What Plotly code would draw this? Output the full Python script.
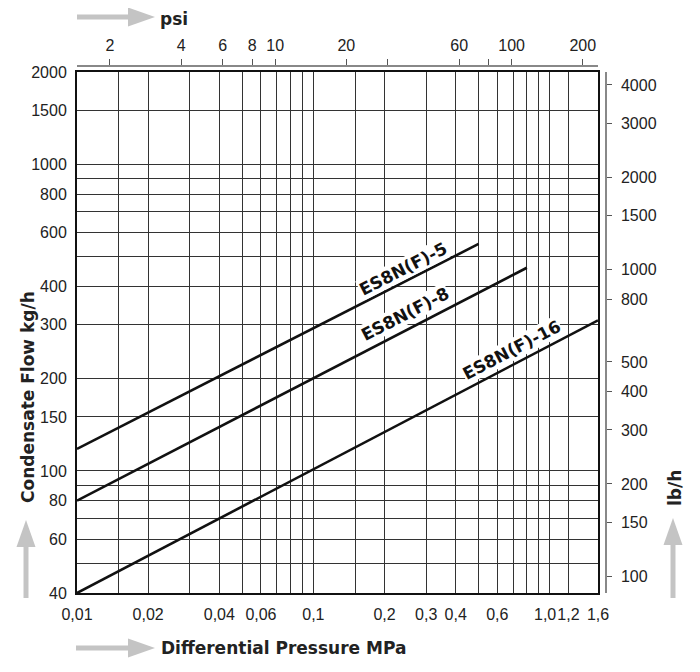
import math
import plotly.graph_objects as go

# ---------------- data ----------------
pressure_5 = [0.01, 0.5]      # MPa
flow_5 = [118, 550]           # kg/h
pressure_8 = [0.01, 0.8]
flow_8 = [80, 460]
pressure_16 = [0.01, 1.6]
flow_16 = [40, 310]
series_names = ["ES8N(F)-5", "ES8N(F)-8", "ES8N(F)-16"]
label_pressure = [0.239, 0.244, 0.69]   # where each label sits along its line
label_offset_px = [14, 17, 15]

x_tick_vals = [0.01, 0.015, 0.02, 0.03, 0.04, 0.05, 0.06, 0.07, 0.08, 0.09, 0.1,
               0.15, 0.2, 0.3, 0.4, 0.5, 0.6, 0.7, 0.8, 0.9, 1.0, 1.2, 1.6]
x_tick_text = ["0,01", "", "0,02", "", "0,04", "", "0,06", "", "", "", "0,1",
               "", "0,2", "0,3", "0,4", "", "0,6", "", "", "", "", "1,2", "1,6"]
crowded_tick_val, crowded_tick_text = 1.0, "1,0"   # drawn just left of its tick
y_tick_vals = [40, 50, 60, 70, 80, 90, 100, 150, 200, 300, 400, 500, 600, 700,
               800, 900, 1000, 1500, 2000]
y_tick_text = ["40", "", "60", "", "80", "", "100", "150", "200", "300", "400", "",
               "600", "", "800", "", "1000", "1500", "2000"]
psi_tick_vals = [2, 4, 6, 8, 10, 20, 30, 60, 80, 100, 200]
psi_tick_text = ["2", "4", "6", "8", "10", "20", "", "60", "", "100", "200"]
lb_tick_vals = [100, 150, 200, 300, 400, 500, 800, 1000, 1500, 2000, 3000, 4000]

X_MIN, X_MAX = 0.01, 1.6
Y_MIN, Y_MAX = 40, 2000
PSI_PER_MPA = 145.0377
LB_PER_KG = 2.20462

# ---------------- layout geometry ----------------
# the page body has an 8px margin, so the figure is drawn 8px in from the corner
OFF = 8
W, H = 700 - OFF, 672 - OFF
L, R, T, B = 77 - OFF, 94, 66 - OFF, 79
PW, PH = W - L - R, H - T - B
XDOM = (598 - 77) / PW
YDOM = (593 - 72) / PH


def px(xs):
    """screen x (window pixels) -> paper x"""
    return (xs - OFF - L) / PW


def py(ys):
    """screen y (window pixels) -> paper y"""
    return (H - B - (ys - OFF)) / PH


tick_font = dict(family="Liberation Sans Narrow, Arial Narrow, Liberation Sans, Arial, sans-serif",
                 size=16, color="#222")
bold_font = dict(family="Verdana, DejaVu Sans, sans-serif", size=17, color="#222")

fig = go.Figure()
for xs, ys, name in [(pressure_5, flow_5, series_names[0]),
                     (pressure_8, flow_8, series_names[1]),
                     (pressure_16, flow_16, series_names[2])]:
    fig.add_trace(go.Scatter(x=xs, y=ys, mode="lines", name=name,
                             line=dict(color="#111", width=2.6), hoverinfo="skip"))

# helper traces so the secondary axes are drawn
fig.add_trace(go.Scatter(x=[X_MIN * PSI_PER_MPA, X_MAX * PSI_PER_MPA], y=[Y_MIN, Y_MAX],
                         xaxis="x2", yaxis="y", mode="markers", marker=dict(opacity=0),
                         hoverinfo="skip", showlegend=False))
fig.add_trace(go.Scatter(x=[X_MIN, X_MAX], y=[Y_MIN * LB_PER_KG, Y_MAX * LB_PER_KG],
                         xaxis="x", yaxis="y2", mode="markers", marker=dict(opacity=0),
                         hoverinfo="skip", showlegend=False))

# line labels
px_per_dec_x = (XDOM * PW) / math.log10(X_MAX / X_MIN)
px_per_dec_y = (YDOM * PH) / math.log10(Y_MAX / Y_MIN)
annotations = []
for xs, ys, name, lx, off in zip([pressure_5, pressure_8, pressure_16],
                                 [flow_5, flow_8, flow_16],
                                 series_names, label_pressure, label_offset_px):
    slope = math.log10(ys[1] / ys[0]) / math.log10(xs[1] / xs[0])
    ly = ys[0] * (lx / xs[0]) ** slope
    ang = math.degrees(math.atan(slope * px_per_dec_y / px_per_dec_x))
    annotations.append(dict(x=math.log10(lx), y=math.log10(ly), xref="x", yref="y",
                            text="<b>%s</b>" % name, showarrow=False, textangle=-ang,
                            font=dict(family="Verdana, DejaVu Sans, sans-serif", size=17, color="#111"),
                            bgcolor="white", borderpad=0, yshift=off,
                            xanchor="center", yanchor="middle"))

# the crowded "1,0" tick label, set just left of its tick so it does not collide with "1,2"
annotations.append(dict(x=math.log10(crowded_tick_val), y=0, xref="x", yref="paper",
                        text=crowded_tick_text, showarrow=False, xanchor="right", yanchor="top",
                        xshift=7, yshift=-12, font=tick_font, borderpad=0))

annotations += [
    dict(x=px(158), y=py(19), xref="paper", yref="paper", text="<b>psi</b>",
         showarrow=False, xanchor="left", yanchor="middle", font=bold_font),
    dict(x=px(159), y=py(648), xref="paper", yref="paper",
         text="<b>Differential Pressure MPa</b>", showarrow=False,
         xanchor="left", yanchor="middle", font=bold_font),
    dict(x=px(28), y=py(397), xref="paper", yref="paper",
         text="<b>Condensate Flow kg/h</b>", showarrow=False, textangle=-90,
         xanchor="center", yanchor="middle", font=bold_font),
    dict(x=px(675), y=py(488), xref="paper", yref="paper",
         text="<b>lb/h</b>", showarrow=False, textangle=-90,
         xanchor="center", yanchor="middle", font=bold_font),
]

# grey arrows
ARROW = "#c4c4c4"
shapes = []


def h_arrow(x0, x1, y, shaft=5, head_len=27, head_h=19):
    hb = x1 - head_len
    shapes.append(dict(type="rect", xref="paper", yref="paper",
                       x0=px(x0), x1=px(hb + 1), y0=py(y - shaft / 2), y1=py(y + shaft / 2),
                       fillcolor=ARROW, line=dict(width=0), layer="above"))
    path = "M %f %f L %f %f L %f %f Z" % (px(hb), py(y - head_h / 2), px(x1), py(y),
                                          px(hb), py(y + head_h / 2))
    shapes.append(dict(type="path", xref="paper", yref="paper", path=path,
                       fillcolor=ARROW, line=dict(width=0), layer="above"))


def v_arrow(x, y0, y1, shaft=5, head_len=27, head_w=19):
    hb = y1 + head_len
    shapes.append(dict(type="rect", xref="paper", yref="paper",
                       x0=px(x - shaft / 2), x1=px(x + shaft / 2), y0=py(y0), y1=py(hb - 1),
                       fillcolor=ARROW, line=dict(width=0), layer="above"))
    path = "M %f %f L %f %f L %f %f Z" % (px(x - head_w / 2), py(hb), px(x), py(y1),
                                          px(x + head_w / 2), py(hb))
    shapes.append(dict(type="path", xref="paper", yref="paper", path=path,
                       fillcolor=ARROW, line=dict(width=0), layer="above"))


h_arrow(77, 155, 17)
h_arrow(76, 155, 648)
v_arrow(26, 598, 520)
v_arrow(673, 598, 518)

grid = dict(showgrid=True, gridcolor="#333", gridwidth=1)

fig.update_layout(
    template="none",
    width=W, height=H, margin=dict(l=L, r=R, t=T, b=B, autoexpand=False),
    paper_bgcolor="white", plot_bgcolor="white", showlegend=False,
    xaxis=dict(type="log", range=[math.log10(X_MIN), math.log10(X_MAX)], domain=[0, XDOM],
               tickmode="array", tickvals=x_tick_vals, ticktext=x_tick_text, ticks="",
               tickfont=tick_font, tickangle=0, showline=True, mirror=True, linecolor="#111",
               linewidth=2, zeroline=False, ticklabelstandoff=6, automargin=False, **grid),
    yaxis=dict(type="log", range=[math.log10(Y_MIN), math.log10(Y_MAX)], domain=[0, YDOM],
               tickmode="array", tickvals=y_tick_vals, ticktext=y_tick_text, ticks="",
               tickfont=tick_font, tickangle=0, showline=True, mirror=True, linecolor="#111",
               linewidth=2, zeroline=False, ticklabelstandoff=5, automargin=False, **grid),
    xaxis2=dict(type="log", overlaying="x", anchor="free", position=1, side="top",
                range=[math.log10(X_MIN * PSI_PER_MPA), math.log10(X_MAX * PSI_PER_MPA)],
                tickmode="array", tickvals=psi_tick_vals, ticktext=psi_tick_text,
                ticks="outside", ticklen=6, tickcolor="#555", tickwidth=1, tickangle=0,
                showline=True, linecolor="#888", linewidth=2, showgrid=False, zeroline=False,
                tickfont=tick_font, ticklabelstandoff=2, automargin=False),
    yaxis2=dict(type="log", overlaying="y", anchor="free", position=1, side="right",
                range=[math.log10(Y_MIN * LB_PER_KG), math.log10(Y_MAX * LB_PER_KG)],
                tickmode="array", tickvals=lb_tick_vals, ticktext=[str(v) for v in lb_tick_vals],
                ticks="outside", ticklen=5, tickcolor="#555", tickwidth=1, tickangle=0,
                showline=True, linecolor="#888", linewidth=1.5, showgrid=False, zeroline=False,
                tickfont=tick_font, ticklabelstandoff=6, automargin=False),
    annotations=annotations, shapes=shapes,
)

fig.write_html("out.html")
